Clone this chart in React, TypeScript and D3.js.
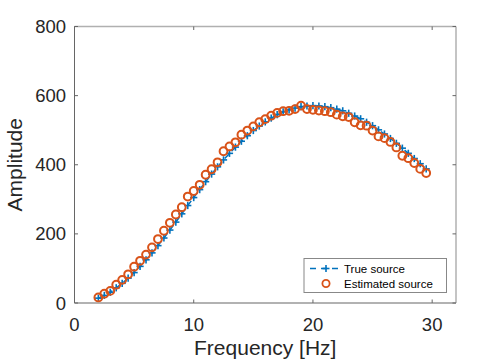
import React from "react";
import * as d3 from "d3";

const freqs: number[] = [2, 2.5, 3, 3.5, 4, 4.5, 5, 5.5, 6, 6.5, 7, 7.5, 8, 8.5, 9, 9.5, 10, 10.5, 11, 11.5, 12, 12.5, 13, 13.5, 14, 14.5, 15, 15.5, 16, 16.5, 17, 17.5, 18, 18.5, 19, 19.5, 20, 20.5, 21, 21.5, 22, 22.5, 23, 23.5, 24, 24.5, 25, 25.5, 26, 26.5, 27, 27.5, 28, 28.5, 29, 29.5];

const trueSource: number[] = [14, 22, 31, 44, 57, 72, 88, 106, 125, 145, 166, 188, 211, 234, 258, 282, 305, 328, 351, 373, 394, 414, 433, 451, 468, 484, 499, 512, 524, 535, 545, 553, 559, 564, 568, 570, 571, 570, 568, 565, 561, 556, 549, 541, 533, 523, 513, 501, 489, 476, 462, 448, 433, 418, 403, 388];

const estSource: number[] = [16, 27, 35, 53, 67, 83, 105, 122, 140, 161, 185, 209, 232, 256, 277, 308, 324, 342, 371, 387, 407, 439, 453, 465, 487, 499, 511, 523, 532, 542, 550, 555, 556, 561, 571, 561, 559, 557, 555, 552, 545, 540, 538, 523, 514, 513, 499, 482, 477, 466, 450, 426, 419, 405, 388, 376];

const xTicks: number[] = [0, 10, 20, 30];
const yTicks: number[] = [0, 200, 400, 600, 800];
const legendLabels: string[] = ["True source", "Estimated source"];

const BLUE = "#0072BD";
const ORANGE = "#D95319";
const TXT = "#262626";
const FONT = "'Liberation Sans', Arial, Helvetica, sans-serif";

export default function App() {
  const left = 74.5, right = 456, top = 26.5, bottom = 303;
  const x = d3.scaleLinear().domain([0, 32]).range([left, right]);
  const y = d3.scaleLinear().domain([0, 800]).range([bottom, top]);

  const pts = freqs.map((f, i) => ({ f, t: trueSource[i], e: estSource[i] }));
  const line = d3.line<{ f: number; t: number }>().x((d) => x(d.f)).y((d) => y(d.t));

  const tickLen = 3.5;
  const plus = (cx: number, cy: number, s: number, key: string) => (
    <g key={key}>
      <line x1={cx - s} x2={cx + s} y1={cy} y2={cy} stroke={BLUE} strokeWidth={1.6} />
      <line x1={cx} x2={cx} y1={cy - s} y2={cy + s} stroke={BLUE} strokeWidth={1.6} />
    </g>
  );

  const lgX = 304, lgY = 258.5, lgW = 142.5, lgH = 34;

  return (
    <svg width={504} height={360} style={{ position: "absolute", left: 0, top: 0, background: "#fff" }} fontFamily={FONT}>
      <rect x={0} y={0} width={504} height={360} fill="#fff" />
      <line x1={left} x2={right} y1={top} y2={top} stroke="#b0b0b0" strokeWidth={1.5} />
      <line x1={right} x2={right} y1={top} y2={bottom} stroke="#b0b0b0" strokeWidth={1.5} />
      <line x1={left} x2={right} y1={bottom} y2={bottom} stroke="#999" strokeWidth={1.5} />
      <line x1={left} x2={left} y1={top} y2={bottom} stroke="#666" strokeWidth={1} />
      {xTicks.map((t) => (
        <g key={"xt" + t}>
          <line x1={x(t)} x2={x(t)} y1={bottom} y2={bottom - tickLen} stroke="#666" strokeWidth={1} />
          <line x1={x(t)} x2={x(t)} y1={top} y2={top + tickLen} stroke="#666" strokeWidth={1} />
          <text x={x(t)} y={331} textAnchor="middle" fontSize={18.5} fill={TXT}>{t}</text>
        </g>
      ))}
      {yTicks.map((t) => (
        <g key={"yt" + t}>
          <line x1={left} x2={left + tickLen} y1={y(t)} y2={y(t)} stroke="#666" strokeWidth={1} />
          <line x1={right} x2={right - tickLen} y1={y(t)} y2={y(t)} stroke="#666" strokeWidth={1} />
          <text x={66} y={y(t) + 6.5} textAnchor="end" fontSize={18.5} fill={TXT}>{t}</text>
        </g>
      ))}
      <text x={(left + right) / 2} y={355} textAnchor="middle" fontSize={21} fill={TXT}>Frequency [Hz]</text>
      <text transform={`translate(22, ${(top + bottom) / 2}) rotate(-90)`} textAnchor="middle" fontSize={21} fill={TXT}>Amplitude</text>

      <path d={line(pts) || ""} fill="none" stroke={BLUE} strokeWidth={1.5} strokeDasharray="6,4" />
      {pts.map((d, i) => plus(x(d.f), y(d.t), 3.6, "p" + i))}
      {pts.map((d, i) => (
        <circle key={"c" + i} cx={x(d.f)} cy={y(d.e)} r={3.9} fill="none" stroke={ORANGE} strokeWidth={2} />
      ))}

      <rect x={lgX} y={lgY} width={lgW} height={lgH} fill="#fff" stroke="#888" strokeWidth={1} />
      <line x1={310} x2={342} y1={268.5} y2={268.5} stroke={BLUE} strokeWidth={1.5} strokeDasharray="6,5" />
      {plus(326, 268.5, 3.5, "lgp")}
      <text x={344} y={272.5} fontSize={11.5} fill="#000">{legendLabels[0]}</text>
      <circle cx={326} cy={283.5} r={3.6} fill="none" stroke={ORANGE} strokeWidth={1.8} />
      <text x={344} y={287.5} fontSize={11.5} fill="#000">{legendLabels[1]}</text>
    </svg>
  );
}
